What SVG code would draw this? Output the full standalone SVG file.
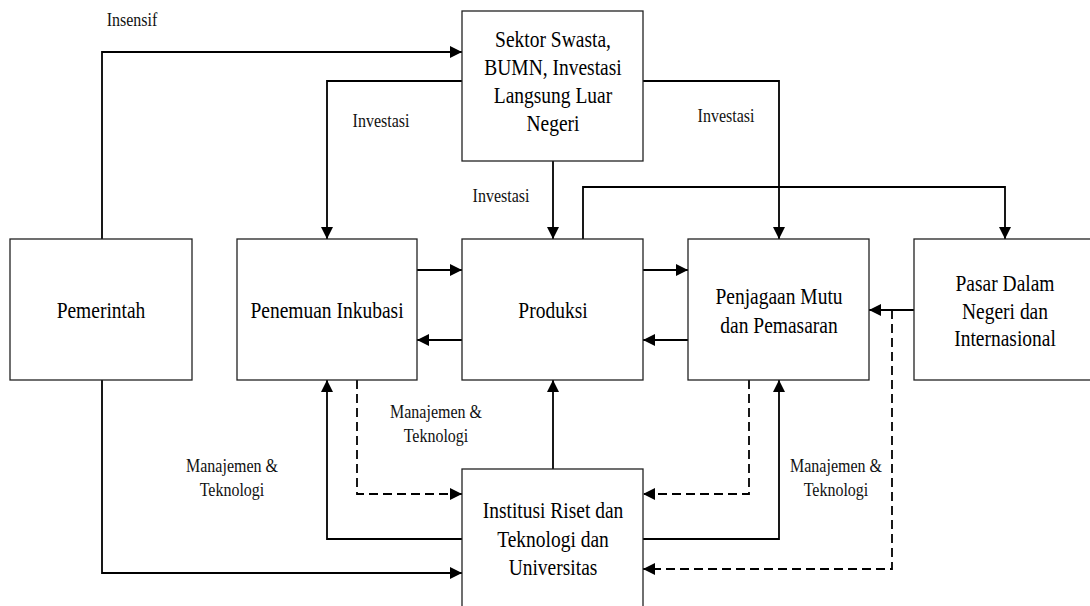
<svg xmlns="http://www.w3.org/2000/svg" width="1090" height="606" viewBox="0 0 1090 606">
  <defs>
    <marker id="arrow" markerUnits="userSpaceOnUse" markerWidth="12" markerHeight="12" viewBox="0 0 12 12" refX="12" refY="6" orient="auto">
      <path d="M0,0 L12,6 L0,12 Z" fill="#000"/>
    </marker>
  </defs>
  <style>
    .box { fill: #fff; stroke: #222; stroke-width: 1.3; }
    .node-text { font-family: "Liberation Serif", "Times New Roman", serif; font-size: 19.5px; fill: #000; text-anchor: middle; }
    .label { font-family: "Liberation Serif", "Times New Roman", serif; font-size: 16px; fill: #111; text-anchor: middle; }
    .link { fill: none; stroke: #000; stroke-width: 1.8; marker-end: url(#arrow); }
    .dash { stroke-dasharray: 9 5; }
  </style>
  <rect width="1090" height="606" fill="#fff"/>

  <!-- connectors -->
  <g id="connectors">
    <!-- Pemerintah to Sektor Swasta -->
    <path class="link" d="M102,239 V52 H462"/>
    <!-- Sektor Swasta to Penemuan Inkubasi -->
    <path class="link" d="M462,81 H327 V239"/>
    <!-- Sektor Swasta to Produksi -->
    <path class="link" d="M553,161 V239"/>
    <!-- Sektor Swasta to Penjagaan Mutu -->
    <path class="link" d="M643,81 H779 V239"/>
    <!-- Produksi to Pasar -->
    <path class="link" d="M583,239 V187 H1005 V239"/>
    <!-- Penemuan <-> Produksi -->
    <path class="link" d="M417,270 H462"/>
    <path class="link" d="M462,340 H417"/>
    <!-- Produksi <-> Penjagaan Mutu -->
    <path class="link" d="M643,270 H688"/>
    <path class="link" d="M688,340 H643"/>
    <!-- Pasar to Penjagaan Mutu -->
    <path class="link" d="M914,310 H869"/>
    <!-- Pasar feedback to Institusi (dashed) -->
    <path class="link dash" d="M892,310 V569 H643"/>
    <!-- Penemuan to Institusi (dashed) -->
    <path class="link dash" d="M357,380 V494 H462"/>
    <!-- Institusi to Penemuan -->
    <path class="link" d="M462,539 H327 V380"/>
    <!-- Pemerintah to Institusi -->
    <path class="link" d="M102,380 V573 H462"/>
    <!-- Institusi to Produksi -->
    <path class="link" d="M553,469 V380"/>
    <!-- Penjagaan Mutu to Institusi (dashed) -->
    <path class="link dash" d="M749,380 V494 H643"/>
    <!-- Institusi to Penjagaan Mutu -->
    <path class="link" d="M643,539 H779 V380"/>

    <!-- labels: serif type drawn slightly tall -->
    <text class="label" transform="translate(132,26) scale(1,1.22)">Insensif</text>
    <text class="label" transform="translate(381,127) scale(1,1.22)">Investasi</text>
    <text class="label" transform="translate(501,202) scale(1,1.22)">Investasi</text>
    <text class="label" transform="translate(726,122) scale(1,1.22)">Investasi</text>
    <text class="label" transform="translate(436,418) scale(1,1.22)">Manajemen &amp;</text>
    <text class="label" transform="translate(436,442) scale(1,1.22)">Teknologi</text>
    <text class="label" transform="translate(232,472) scale(1,1.22)">Manajemen &amp;</text>
    <text class="label" transform="translate(232,496) scale(1,1.22)">Teknologi</text>
    <text class="label" transform="translate(836,472) scale(1,1.22)">Manajemen &amp;</text>
    <text class="label" transform="translate(836,496) scale(1,1.22)">Teknologi</text>
  </g>

  <!-- nodes -->
  <g id="sektor-swasta">
    <rect class="box" x="462" y="11" width="181" height="150"/>
    <text class="node-text" transform="translate(553,46.5) scale(1,1.2)">Sektor Swasta,</text>
    <text class="node-text" transform="translate(553,75) scale(1,1.2)">BUMN, Investasi</text>
    <text class="node-text" transform="translate(553,103) scale(1,1.2)">Langsung Luar</text>
    <text class="node-text" transform="translate(553,131) scale(1,1.2)">Negeri</text>
  </g>
  <g id="pemerintah">
    <rect class="box" x="10" y="239" width="182" height="141"/>
    <text class="node-text" transform="translate(101,318) scale(1,1.2)">Pemerintah</text>
  </g>
  <g id="penemuan-inkubasi">
    <rect class="box" x="237" y="239" width="180" height="141"/>
    <text class="node-text" transform="translate(327,318) scale(1,1.2)">Penemuan Inkubasi</text>
  </g>
  <g id="produksi">
    <rect class="box" x="462" y="239" width="181" height="141"/>
    <text class="node-text" transform="translate(553,318) scale(1,1.2)">Produksi</text>
  </g>
  <g id="penjagaan-mutu">
    <rect class="box" x="688" y="239" width="181" height="141"/>
    <text class="node-text" transform="translate(779,304) scale(1,1.2)">Penjagaan Mutu</text>
    <text class="node-text" transform="translate(779,332.5) scale(1,1.2)">dan Pemasaran</text>
  </g>
  <g id="pasar">
    <rect class="box" x="914" y="239" width="181" height="141"/>
    <text class="node-text" transform="translate(1005,290.5) scale(1,1.2)">Pasar Dalam</text>
    <text class="node-text" transform="translate(1005,318.5) scale(1,1.2)">Negeri dan</text>
    <text class="node-text" transform="translate(1005,346) scale(1,1.2)">Internasional</text>
  </g>
  <g id="institusi-riset">
    <rect class="box" x="462" y="469" width="181" height="150"/>
    <text class="node-text" transform="translate(553,518) scale(1,1.2)">Institusi Riset dan</text>
    <text class="node-text" transform="translate(553,546.5) scale(1,1.2)">Teknologi dan</text>
    <text class="node-text" transform="translate(553,575) scale(1,1.2)">Universitas</text>
  </g>
</svg>
